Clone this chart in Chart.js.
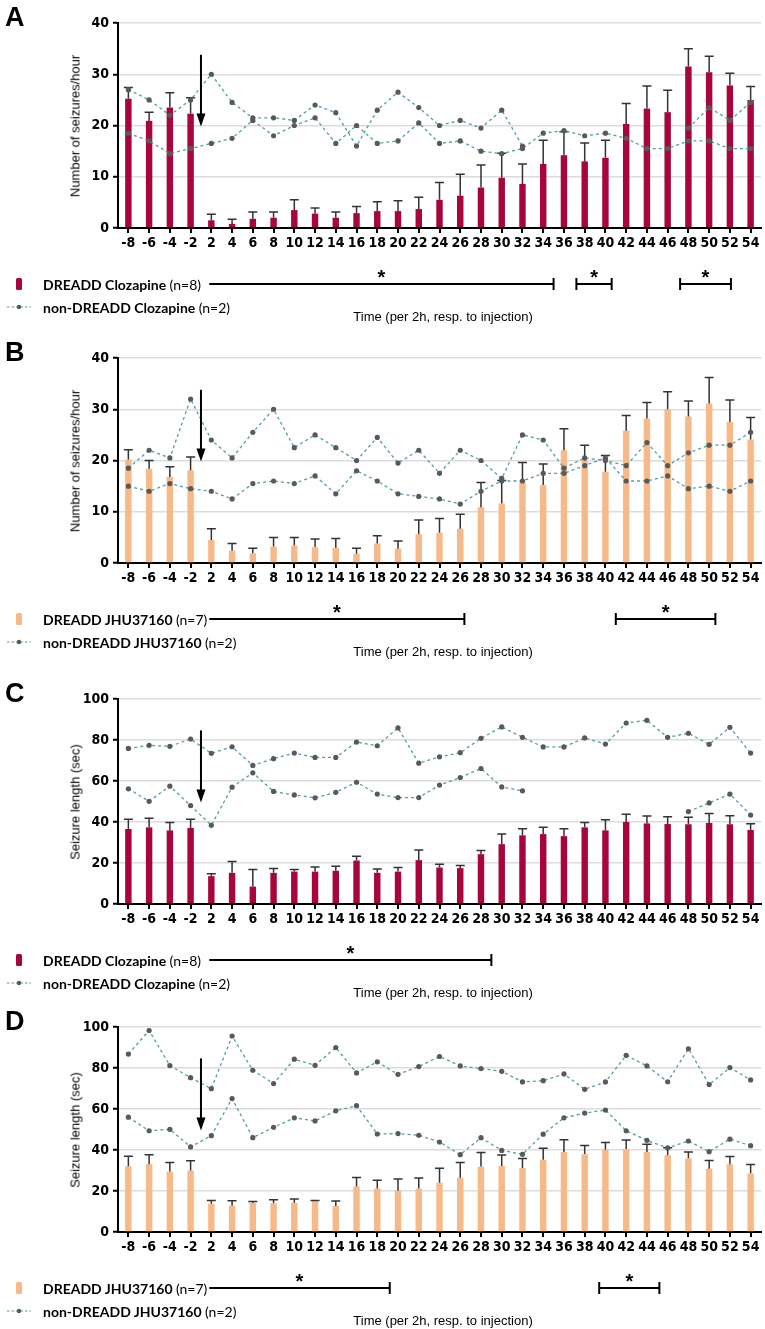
<!DOCTYPE html>
<html><head><meta charset="utf-8">
<script src="https://cdn.jsdelivr.net/npm/chart.js@4.4.0/dist/chart.umd.min.js"></script>
<style>
body{margin:0;background:#fff;width:765px;height:1329px;position:relative;overflow:hidden;font-family:'Liberation Sans',Arial,sans-serif;color:#000;}
canvas{position:absolute;left:0;}
.letter{position:absolute;left:5px;font:bold 27px 'Liberation Sans',Arial,sans-serif;line-height:30px;}
.ytitle{position:absolute;left:75px;font:13px 'Liberation Sans',Arial,sans-serif;white-space:nowrap;transform:translate(-50%,-50%) rotate(-90deg);}
.leg{position:absolute;left:43px;font:bold 14px Lato,'Liberation Sans',sans-serif;white-space:nowrap;transform:translateY(-50%);}
.leg span{font-weight:normal;}
.xtitle{position:absolute;left:443px;font:13px 'Liberation Sans',Arial,sans-serif;white-space:nowrap;transform:translate(-50%,-50%);}
</style></head>
<body>
<script>
// ---- data ----
const timeLabels = ['-8','-6','-4','-2','2','4','6','8','10','12','14','16','18','20','22','24','26','28','30','32','34','36','38','40','42','44','46','48','50','52','54'];

// Panel A: seizures/hour, DREADD Clozapine (mean, mean+SEM) and two non-DREADD animals
const dreaddClozRate    = [25.2,20.9,23.5,22.3, 1.5,0.8,1.8,2.0,3.5,2.8,2.0,2.9,3.3,3.3,3.7, 5.5,6.3,7.9,9.8,8.6,12.5,14.2,13.0,13.7,20.3,23.3,22.6,31.5,30.4,27.8,25.0];
const dreaddClozRateErr = [27.4,22.6,26.4,25.4, 2.7,1.7,3.1,3.1,5.5,3.9,3.1,4.2,5.1,5.3,6.0, 8.9,10.5,12.3,14.6,12.5,17.1,18.8,16.6,17.1,24.3,27.7,26.9,35.0,33.5,30.2,27.6];
const nonClozRate1 = [27,25,22,25, 30,24.5,21.5,21.5,21,24,22.5,16,23,26.5,23.5, 20,21,19.5,23,16,null,null,null,null,null,null,null,19.5,23.5,21,24.5];
const nonClozRate2 = [18.5,17,14.5,15.5, 16.5,17.5,21,18,20,21.5,16.5,20,16.5,17,20.5, 16.5,17,15,14.5,15.5,18.5,19,18,18.5,17.5,15.5,15.5,17,17,15.5,15.5];

// Panel B: seizures/hour, DREADD JHU37160
const dreaddJhuRate    = [20.2,18.4,16.8,18.1, 4.5,2.4,1.9,3.2,3.4,3.1,3.0,1.8,3.8,2.8,5.6, 5.9,6.7,10.9,11.6,15.7,15.2,22.0,20.0,17.8,25.8,28.2,30.0,28.6,31.1,27.5,24.1];
const dreaddJhuRateErr = [22.1,20.0,18.8,20.7, 6.7,3.8,2.9,5.0,5.0,4.7,4.8,2.9,5.3,4.3,8.4, 8.7,9.5,15.7,16.1,19.6,19.3,26.2,23.0,21.0,28.8,31.3,33.4,31.6,36.2,31.8,28.4];
const nonJhuRate1 = [18.5,22,20.5,32, 24,20.5,25.5,30,22.5,25,22.5,20,24.5,19.5,22, 17.5,22,20,16.5,25,24,18.5,20.5,20,19,23.5,19,21.5,23,23,25.5];
const nonJhuRate2 = [15,14,15.5,14.5, 14,12.5,15.5,16,15.5,17,13.5,18,16,13.5,13, 12.5,11.5,14,16,16,17.5,17.5,19,20.5,16,16,17,14.5,15,14,16];

// Panel C: seizure length (sec), Clozapine
const dreaddClozLen    = [36.6,37.4,35.9,37.1, 13.6,15.2,8.5,15.2,15.8,15.8,16.2,21.2,15.2,15.8,21.4, 17.8,17.5,24.3,29.2,33.5,34.1,33.1,37.4,35.9,40.0,39.3,39.0,38.9,39.5,38.9,36.1];
const dreaddClozLenErr = [41.3,41.8,39.7,41.3, 14.7,20.7,16.8,17.3,16.8,18.1,18.4,23.3,17.1,17.8,26.3, 19.4,18.8,26.1,34.1,36.7,37.4,36.7,39.7,41.1,43.8,42.9,42.6,42.3,44.2,43.1,39.2];
const nonClozLen1 = [75.9,77.4,76.9,80.5, 73.5,76.7,67.6,70.9,73.6,71.5,71.5,79.0,77.2,85.9,68.7, 71.8,73.8,80.8,86.4,81.3,76.6,76.6,81.0,78.0,88.3,89.6,81.3,83.3,77.9,86.2,73.6];
const nonClozLen2 = [56.2,50.1,57.5,48.0, 38.4,57.0,64.0,54.9,53.2,51.8,54.5,59.4,53.6,51.9,51.9, 58.0,61.7,66.1,57.1,55.2,null,null,null,null,null,null,null,45.1,49.3,53.6,43.4];

// Panel D: seizure length (sec), JHU37160
const dreaddJhuLen    = [32.1,33.1,29.5,30.0, 13.8,12.8,14.1,14.0,14.3,15.0,12.7,22.2,21.2,20.1,21.2, 24.0,26.5,31.9,32.2,31.2,35.2,39.0,38.0,40.1,40.5,39.0,37.5,36.0,30.9,33.1,28.6];
const dreaddJhuLenErr = [37.0,37.7,33.9,34.8, 15.4,15.2,14.9,15.7,16.1,15.4,15.1,26.6,25.3,25.8,26.3, 31.1,33.9,38.8,37.6,35.8,40.8,45.0,42.2,43.6,44.9,42.8,41.1,39.0,34.9,36.8,32.9];
const nonJhuLen1 = [86.8,98.3,81.2,75.3, 69.9,95.6,78.9,72.4,84.3,81.3,90.0,77.6,83.0,76.9,80.7, 85.6,81.0,79.7,78.4,73.2,73.8,77.1,69.6,73.2,86.2,81.0,73.3,89.4,71.9,80.2,74.2];
const nonJhuLen2 = [56.0,49.4,50.1,41.5, 47.0,65.1,46.0,51.1,55.7,54.2,59.1,61.6,47.8,48.0,47.2, 43.9,37.7,46.0,39.8,37.9,47.7,55.7,58.0,59.5,49.4,44.7,41.0,44.4,39.2,45.3,42.1];

// significance spans (category index units) and injection arrow (value range)
const sigA = [[3.9,20.5,false],[21.6,23.3,true],[26.6,29.05,true]];
const sigB = [[3.9,16.2,false],[23.5,28.3,true]];
const sigC = [[3.9,17.5,false]];
const sigD = [[3.9,12.6,false],[22.7,25.6,true]];
const arrowRate = [33.8, 19.8];
const arrowLen = [84.7, 49.5];

const RED = '#a6063a', ORANGE = '#f8b988', TEAL = '#4e9ea8', DOT = '#595959';
const tickFont = {family:"'Liberation Sans Narrow','DejaVu Sans Condensed',sans-serif", size:14, weight:'bold'};

function addText(cls, html, left, top){
  const d = document.createElement('div'); d.className = cls; d.innerHTML = html;
  if(left!==null) d.style.left = left+'px';
  d.style.top = top+'px'; document.body.appendChild(d); return d;
}

function makePanel(p){
  const H = 330, padTop = 23, areaH = 205;
  const cv = document.createElement('canvas');
  cv.width = 765; cv.height = H; cv.style.top = p.top+'px';
  document.body.appendChild(cv);
  const bottom = p.top + padTop + areaH;
  addText('letter', p.letter, null, p.top + 2);
  addText('ytitle', p.ytitle, null, p.top + padTop + areaH/2);
  addText('leg', p.leg1 + ' <span>(n=' + p.n1 + ')</span>', null, bottom + 56);
  addText('leg', p.leg2 + ' <span>(n=2)</span>', null, bottom + 79);
  addText('xtitle', 'Time (per 2h, resp. to injection)', null, bottom + 88);

  const errPlugin = {
    id:'errbars',
    afterDatasetDraw(chart, args){
      if(args.index !== 2) return;
      const ctx = chart.ctx, ys = chart.scales.y;
      ctx.save(); ctx.strokeStyle = '#333'; ctx.lineWidth = 1.5;
      args.meta.data.forEach((bar, i) => {
        const yt = ys.getPixelForValue(p.err[i]);
        ctx.beginPath(); ctx.moveTo(bar.x, bar.y); ctx.lineTo(bar.x, yt);
        ctx.moveTo(bar.x-4.5, yt); ctx.lineTo(bar.x+4.5, yt); ctx.stroke();
      });
      ctx.restore();
    }
  };
  const annPlugin = {
    id:'ann',
    afterDraw(chart){
      const ctx = chart.ctx, xs = chart.scales.x, ys = chart.scales.y;
      ctx.save();
      // injection arrow
      const ax = xs.getPixelForValue(3.5);
      const y0 = ys.getPixelForValue(p.arrow[0]), y1 = ys.getPixelForValue(p.arrow[1]);
      ctx.strokeStyle = '#000'; ctx.fillStyle = '#000'; ctx.lineWidth = 2;
      ctx.beginPath(); ctx.moveTo(ax, y0); ctx.lineTo(ax, y1-12); ctx.stroke();
      ctx.beginPath(); ctx.moveTo(ax-4.5, y1-13); ctx.lineTo(ax+4.5, y1-13); ctx.lineTo(ax, y1); ctx.closePath(); ctx.fill();
      // significance bars
      const sy = chart.chartArea.bottom + 56;
      p.sig.forEach(([a,b,capL]) => {
        const xa = xs.getPixelForValue(a), xb = xs.getPixelForValue(b);
        ctx.lineWidth = 2;
        ctx.beginPath(); ctx.moveTo(xa, sy); ctx.lineTo(xb, sy);
        ctx.moveTo(xb, sy-6); ctx.lineTo(xb, sy+6);
        if(capL){ ctx.moveTo(xa, sy-6); ctx.lineTo(xa, sy+6); }
        ctx.stroke();
        ctx.font = "bold 20px 'Liberation Sans',Arial,sans-serif";
        ctx.textAlign = 'center'; ctx.textBaseline = 'middle';
        ctx.fillText('*', (xa+xb)/2, sy-6);
      });
      // legend icons
      const ly = chart.chartArea.bottom + 56;
      ctx.fillStyle = p.color;
      ctx.beginPath(); ctx.roundRect(16, ly-6, 6, 12, 1.5); ctx.fill();
      const ly2 = chart.chartArea.bottom + 79;
      ctx.strokeStyle = TEAL; ctx.lineWidth = 1.2; ctx.setLineDash([2.5,2]);
      ctx.beginPath(); ctx.moveTo(7, ly2); ctx.lineTo(31, ly2); ctx.stroke();
      ctx.setLineDash([]);
      ctx.fillStyle = DOT; ctx.beginPath(); ctx.arc(19, ly2, 2.2, 0, Math.PI*2); ctx.fill();
      ctx.restore();
    }
  };
  const lineDs = d => ({type:'line', data:d, borderColor:TEAL, borderWidth:1.3, borderDash:[3,3],
    pointRadius:2.6, pointBackgroundColor:DOT, pointBorderWidth:0, pointHoverRadius:0,
    spanGaps:false, tension:0, fill:false, order:0});
  new Chart(cv, {
    data:{labels:timeLabels, datasets:[
      lineDs(p.l1), lineDs(p.l2),
      {type:'bar', data:p.bars, backgroundColor:p.color, barPercentage:0.31, categoryPercentage:1, order:1}
    ]},
    options:{
      responsive:false, animation:false, devicePixelRatio:1,
      layout:{padding:{top:padTop, left:0, right:4, bottom:0}},
      plugins:{legend:{display:false}, tooltip:{enabled:false}},
      events:[],
      scales:{
        x:{offset:true,
           grid:{offset:false, drawOnChartArea:false, tickLength:5, tickColor:'#000', lineWidth:2},
           border:{color:'#000', width:2},
           ticks:{font:tickFont, color:'#000', padding:2, maxRotation:0, autoSkip:false},
           afterFit(s){ s.height = H - padTop - areaH; }},
        y:{min:0, max:p.max,
           ticks:{stepSize:p.step, font:tickFont, color:'#000', padding:4},
           grid:{color:'#dcdcdc', lineWidth:1.5, tickLength:5, tickColor:'#000', tickWidth:2},
           border:{color:'#000', width:2},
           afterFit(s){ s.width = 118; }}
      }
    },
    plugins:[errPlugin, annPlugin]
  });
}

makePanel({top:0, letter:'A', ytitle:'Number of seizures/hour', max:40, step:10, color:RED,
  bars:dreaddClozRate, err:dreaddClozRateErr, l1:nonClozRate1, l2:nonClozRate2,
  leg1:'DREADD Clozapine', n1:8, leg2:'non-DREADD Clozapine', sig:sigA, arrow:arrowRate});
makePanel({top:335, letter:'B', ytitle:'Number of seizures/hour', max:40, step:10, color:ORANGE,
  bars:dreaddJhuRate, err:dreaddJhuRateErr, l1:nonJhuRate1, l2:nonJhuRate2,
  leg1:'DREADD JHU37160', n1:7, leg2:'non-DREADD JHU37160', sig:sigB, arrow:arrowRate});
makePanel({top:676, letter:'C', ytitle:'Seizure length (sec)', max:100, step:20, color:RED,
  bars:dreaddClozLen, err:dreaddClozLenErr, l1:nonClozLen1, l2:nonClozLen2,
  leg1:'DREADD Clozapine', n1:8, leg2:'non-DREADD Clozapine', sig:sigC, arrow:arrowLen});
makePanel({top:1004, letter:'D', ytitle:'Seizure length (sec)', max:100, step:20, color:ORANGE,
  bars:dreaddJhuLen, err:dreaddJhuLenErr, l1:nonJhuLen1, l2:nonJhuLen2,
  leg1:'DREADD JHU37160', n1:7, leg2:'non-DREADD JHU37160', sig:sigD, arrow:arrowLen});
</script>
</body></html>
